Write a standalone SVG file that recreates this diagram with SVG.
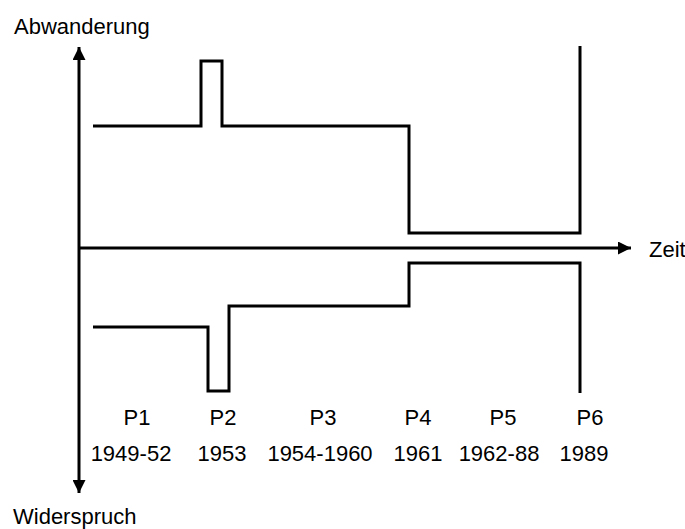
<svg xmlns="http://www.w3.org/2000/svg" width="685" height="529" viewBox="0 0 685 529">
  <style>
    .ln { fill: none; stroke: #000; stroke-width: 3; stroke-linejoin: miter; stroke-linecap: butt; }
    .tx { font-family: "Liberation Sans", Arial, sans-serif; font-size: 22px; fill: #000; }
    .c { text-anchor: middle; }
  </style>
  <defs>
    <marker id="arr" markerWidth="13" markerHeight="13" refX="13" refY="6.5" orient="auto" markerUnits="userSpaceOnUse">
      <path d="M0,0 L13,6.5 L0,13 Z" fill="#000"/>
    </marker>
  </defs>
  <rect width="685" height="529" fill="#fff"/>

  <!-- axes -->
  <g id="axes">
    <line class="ln" x1="79" y1="250" x2="79" y2="47" marker-end="url(#arr)"/>
    <line class="ln" x1="79" y1="250" x2="79" y2="493" marker-end="url(#arr)"/>
    <line class="ln" x1="79" y1="248" x2="631" y2="248" marker-end="url(#arr)"/>
  </g>

  <!-- step curves: emigration above, protest below -->
  <g id="curves">
    <path id="abwanderung-curve" class="ln" d="M93,126 H201 V61 H222 V126 H409 V233 H580 V46"/>
    <path id="widerspruch-curve" class="ln" d="M93,327 H208 V391 H229 V306 H409 V263 H580 V393"/>
  </g>

  <!-- axis titles -->
  <g id="axis-labels">
    <text class="tx" x="14" y="34">Abwanderung</text>
    <text class="tx" x="13" y="524">Widerspruch</text>
    <text class="tx" x="649" y="257">Zeit</text>
  </g>

  <!-- periods -->
  <g id="periods">
    <text class="tx c" x="137" y="425">P1</text>
    <text class="tx c" x="223" y="425">P2</text>
    <text class="tx c" x="323" y="425">P3</text>
    <text class="tx c" x="418" y="425">P4</text>
    <text class="tx c" x="503" y="425">P5</text>
    <text class="tx c" x="590" y="425">P6</text>
    <text class="tx c" x="131" y="461">1949-52</text>
    <text class="tx c" x="222" y="461">1953</text>
    <text class="tx c" x="320" y="461">1954-1960</text>
    <text class="tx c" x="418" y="461">1961</text>
    <text class="tx c" x="499" y="461">1962-88</text>
    <text class="tx c" x="584" y="461">1989</text>
  </g>
</svg>
